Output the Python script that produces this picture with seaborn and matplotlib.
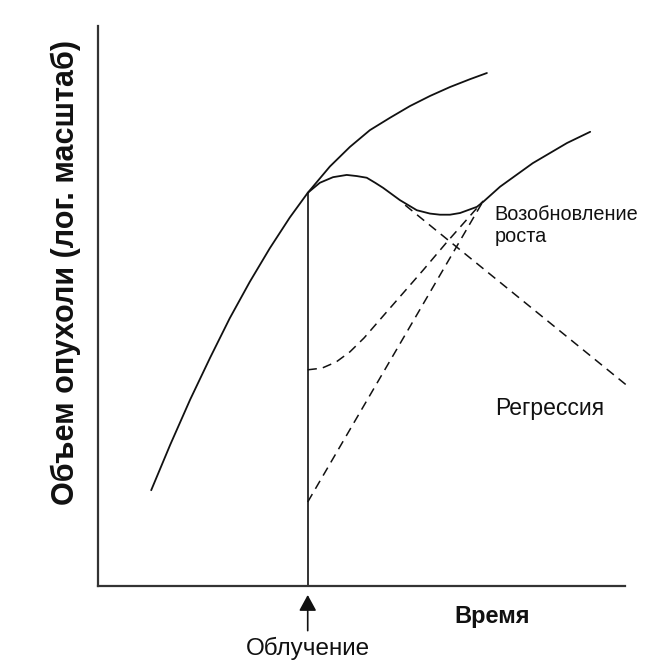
import seaborn as sns
import matplotlib.pyplot as plt

# time (arbitrary units) and tumour volume (log scale, arbitrary units)
growth_t = [1.01, 1.37, 1.75, 2.13, 2.50, 2.88, 3.26, 3.64, 3.98, 4.40, 4.78,
            5.16, 5.54, 5.92, 6.30, 6.68, 7.06, 7.38]
growth_v = [1.71, 2.52, 3.33, 4.08, 4.78, 5.43, 6.03, 6.58, 7.02, 7.49, 7.84,
            8.14, 8.36, 8.57, 8.75, 8.91, 9.05, 9.16]

treated_t = [3.98, 4.21, 4.46, 4.72, 4.91, 5.10, 5.26, 5.41, 5.73, 6.05, 6.30,
             6.49, 6.68, 6.87, 7.19, 7.31, 7.63, 8.25, 8.90, 9.34]
treated_v = [7.02, 7.20, 7.30, 7.34, 7.32, 7.29, 7.20, 7.11, 6.89, 6.71, 6.65,
             6.63, 6.63, 6.66, 6.77, 6.86, 7.13, 7.55, 7.91, 8.11]

# dashed: recovery curve, repopulation line, extrapolated regression
recovery_t = [3.98, 4.25, 4.52, 4.78, 5.05, 5.41, 5.79, 6.17, 6.62, 7.31]
recovery_v = [3.86, 3.89, 4.00, 4.18, 4.43, 4.82, 5.23, 5.64, 6.14, 6.875]

repop_t = [3.98, 7.31]
repop_v = [1.50, 6.875]

regression_t = [5.83, 10.09]
regression_v = [6.80, 3.54]

irradiation_t = 3.98
irradiation_v = 7.02

ink = "#111111"

sns.set_theme(style="white")
plt.rcParams["font.family"] = ["Liberation Sans", "DejaVu Sans"]

fig, ax = plt.subplots(figsize=(6.66, 6.61), dpi=100)
fig.subplots_adjust(left=0.1471, right=0.9384, bottom=0.1135, top=0.9607)

# solid curves
sns.lineplot(x=growth_t, y=growth_v, ax=ax, color=ink, lw=1.3,
             sort=False, estimator=None)
sns.lineplot(x=treated_t, y=treated_v, ax=ax, color=ink, lw=1.3,
             sort=False, estimator=None)
sns.lineplot(x=[irradiation_t, irradiation_t], y=[0, irradiation_v], ax=ax,
             color=ink, lw=1.2, sort=False, estimator=None)

# dashed curves
dash = (0, (6, 4))
sns.lineplot(x=recovery_t, y=recovery_v, ax=ax, color=ink, lw=1.1,
             linestyle=dash, sort=False, estimator=None)
sns.lineplot(x=repop_t, y=repop_v, ax=ax, color=ink, lw=1.1,
             linestyle=dash, sort=False, estimator=None)
sns.lineplot(x=regression_t, y=regression_v, ax=ax, color=ink, lw=1.1,
             linestyle=dash, sort=False, estimator=None, clip_on=False)

ax.set_xlim(0, 10)
ax.set_ylim(0, 10)
ax.set_xticks([])
ax.set_yticks([])
sns.despine(ax=ax)
for side in ["left", "bottom"]:
    ax.spines[side].set_color("#333333")
    ax.spines[side].set_linewidth(1.6)

# labels
ax.set_ylabel("Объем опухоли (лог. масштаб)", fontsize=22, fontweight="bold",
              color=ink)
ax.yaxis.set_label_coords(-0.032, 0.559)

ax.text(6.77, -0.66, "Время", fontsize=17, fontweight="bold", color=ink,
        ha="left", va="baseline")
ax.text(7.53, 6.8, "Возобновление\nроста", fontsize=14.3, color=ink,
        ha="left", va="top", linespacing=1.2)
ax.text(7.53, 3.05, "Регрессия", fontsize=16.5, color=ink,
        ha="left", va="baseline")

ax.annotate("Облучение", xy=(irradiation_t, -0.16), xytext=(irradiation_t, -1.23),
            ha="center", va="baseline", fontsize=17.5, color=ink,
            annotation_clip=False,
            arrowprops=dict(arrowstyle="-|>,head_length=0.55,head_width=0.3",
                            color=ink, lw=1.2, shrinkA=2, shrinkB=0))

fig.savefig("out.png", dpi=100)
